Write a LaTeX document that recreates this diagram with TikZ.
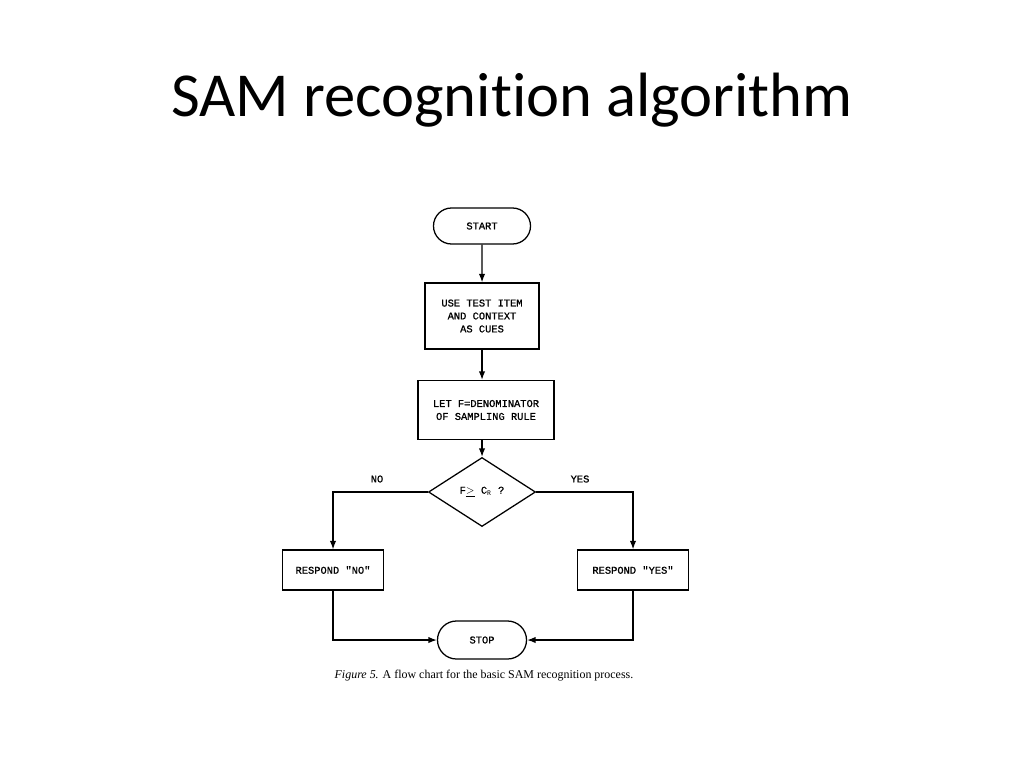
\documentclass[tikz,border=0pt]{standalone}
\usepackage{fontspec}
\setmainfont[Ligatures=NoCommon]{Carlito}
\newfontfamily\chartfont[FakeBold=1]{Liberation Mono}
\newfontfamily\capfont{Liberation Serif}
\usepackage{tikz}
\usetikzlibrary{arrows.meta, positioning, shapes.geometric, shapes.misc}
\tikzset{%
	chartbox/.style={
		rectangle,
		draw,
		line width=0.9pt,
		inner sep=0pt,
		align=center,
		font=\chartfont\fontsize{7.4}{9.2}\selectfont
	},
	terminal/.style={
		rounded rectangle,
		draw,
		line width=0.9pt,
		inner sep=0pt,
		font=\chartfont\fontsize{7.4}{9.2}\selectfont
	},
	decision/.style={
		diamond,
		draw,
		line width=0.9pt,
		inner sep=0pt,
		font=\chartfont\fontsize{7.4}{9.2}\selectfont
	},
	branch/.style={
		font=\chartfont\fontsize{7.4}{9.2}\selectfont
	},
	flow/.style={
		line width=0.9pt,
		-{Latex[length=6pt,width=4.5pt]}
	},
}

\begin{document}
\begin{tikzpicture}[x=0.025cm, y=-0.025cm]
			\useasboundingbox (0,0) rectangle (1024,768);
			
			% Title
			\node[anchor=base, font=\fontsize{44.5}{52}\selectfont] (title) at (512,117) {SAM recognition algorithm};
			
			% Flow chart nodes
			\node[terminal, minimum width=2.425cm, minimum height=0.9cm] (start) at (482,226) {START};
			\node[chartbox, minimum width=2.85cm, minimum height=1.65cm] (cues) at (482,316) {USE TEST ITEM\\AND CONTEXT\\AS CUES};
			\node[chartbox, minimum width=3.4cm, minimum height=1.475cm] (denom) at (486,410) {LET F=DENOMINATOR\\OF SAMPLING RULE};
			\node[decision, minimum width=2.675cm, minimum height=1.725cm] (test) at (482,492) {F$\underline{>}$ C$_{\mathrm{R}}$ ?};
			\node[chartbox, minimum width=2.525cm, minimum height=1cm] (respno) at (333,570) {RESPOND "NO"};
			\node[chartbox, minimum width=2.775cm, minimum height=1cm] (respyes) at (633,570) {RESPOND "YES"};
			\node[terminal, minimum width=2.225cm, minimum height=0.95cm] (stop) at (482,640) {STOP};
			
			% Branch labels
			\node[branch] (nolabel) at (377,479) {NO};
			\node[branch] (yeslabel) at (580,479) {YES};
			
			% Connectors
			\draw[flow] (start) -- (cues);
			\draw[flow] (cues.south) -- (cues.south |- denom.north);
			\draw[flow] (denom.south -| test.north) -- (test.north);
			\draw[flow] (test.west) -| (respno.north);
			\draw[flow] (test.east) -| (respyes.north);
			\draw[flow] (respno.south) |- (stop.west);
			\draw[flow] (respyes.south) |- (stop.east);
			
			% Caption
			\node[font=\capfont\fontsize{8.5}{10}\selectfont] (caption) at (484,676) {\textit{Figure 5.} A flow chart for the basic SAM recognition process.};
		\end{tikzpicture}
\end{document}
